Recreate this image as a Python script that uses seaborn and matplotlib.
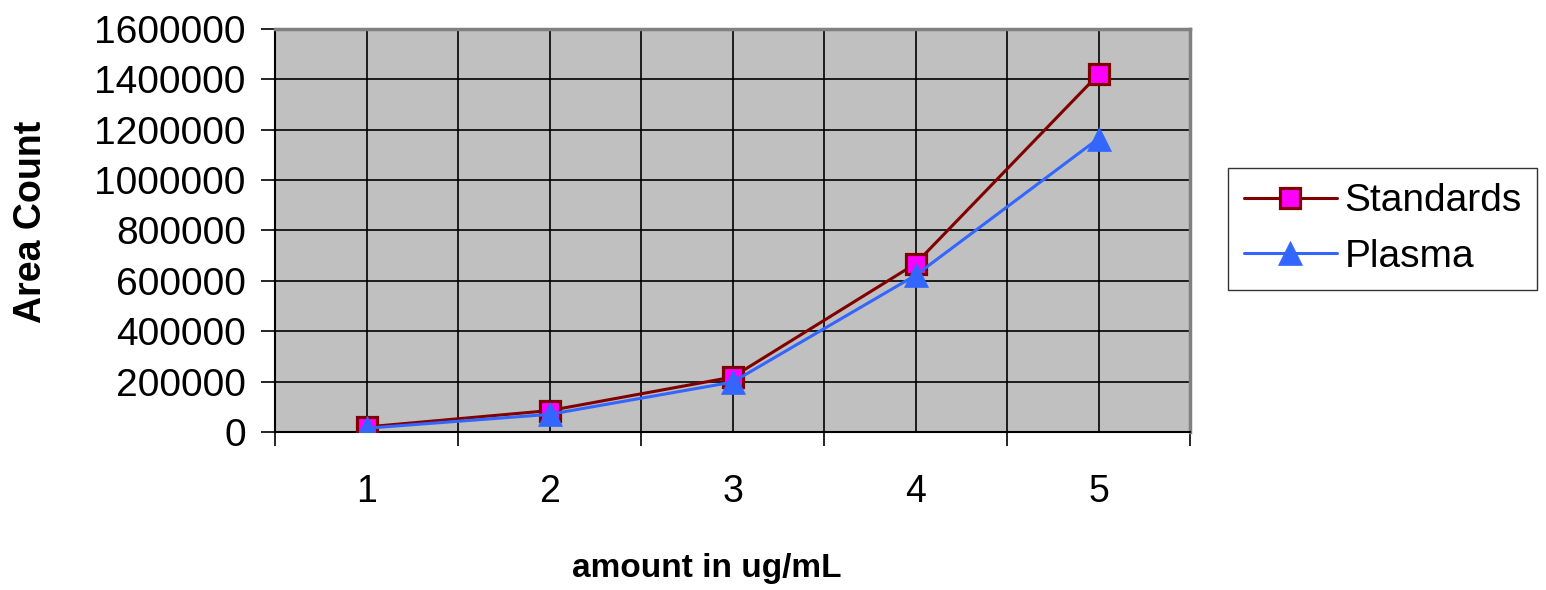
import matplotlib
matplotlib.use("Agg")
import matplotlib.pyplot as plt
import seaborn as sns
import pandas as pd
from matplotlib.ticker import FixedLocator

# Calibration data: concentration vs. detector area count
amounts = [1, 2, 3, 4, 5]
standards = [20000, 85000, 218000, 668000, 1420000]
plasma = [15000, 70000, 198000, 622000, 1165000]
y_ticks = [0, 200000, 400000, 600000, 800000, 1000000, 1200000, 1400000, 1600000]

df = pd.DataFrame({
    "amount": amounts * 2,
    "area": standards + plasma,
    "series": ["Standards"] * len(amounts) + ["Plasma"] * len(amounts),
})

sns.set_style("white")
plt.rcParams["font.family"] = ["Liberation Sans", "DejaVu Sans"]
plt.rcParams["text.color"] = "black"

fig = plt.figure(figsize=(15.46, 5.90), dpi=100)
ax = fig.add_axes([275 / 1546, 1 - 432 / 590, (1190 - 275) / 1546, (432 - 29) / 590])
ax.set_facecolor("#C0C0C0")

sns.lineplot(
    data=df[df.series == "Standards"], x="amount", y="area", ax=ax,
    color="#800000", linewidth=2.2, marker="s", markersize=14.5,
    markerfacecolor="#FF00FF", markeredgecolor="#800000", markeredgewidth=2.3,
    label="Standards", zorder=4,
)
sns.lineplot(
    data=df[df.series == "Plasma"], x="amount", y="area", ax=ax,
    color="#3366FF", linewidth=2.2, marker="^", markersize=17,
    markerfacecolor="#3366FF", markeredgecolor="#3366FF", markeredgewidth=0.5,
    label="Plasma", zorder=5,
)

ax.set_xlim(0.5, 5.5)
ax.set_ylim(0, 1600000)

# Category labels centred, tick marks between categories
ax.xaxis.set_major_locator(FixedLocator(amounts))
ax.xaxis.set_minor_locator(FixedLocator([a + 0.5 for a in [0] + amounts]))
ax.set_xticklabels([str(a) for a in amounts])
ax.set_yticks(y_ticks)
ax.set_yticklabels([str(v) for v in y_ticks])

ax.tick_params(axis="x", which="major", bottom=True, length=0, pad=30, labelsize=27,
               labelcolor="black")
ax.tick_params(axis="x", which="minor", bottom=True, length=10, width=1.2,
               color="black", direction="out")
ax.tick_params(axis="y", which="major", left=True, length=10, width=1.2, color="black",
               direction="out", pad=11, labelsize=28, labelcolor="black")

ax.grid(True, which="major", axis="both", color="black", linewidth=1.2)
ax.grid(True, which="minor", axis="x", color="black", linewidth=1.2)
ax.set_axisbelow(True)

for side in ["top", "right"]:
    ax.spines[side].set_color("#808080")
    ax.spines[side].set_linewidth(2.5)
for side in ["left", "bottom"]:
    ax.spines[side].set_color("black")
    ax.spines[side].set_linewidth(1.5)

ax.set_xlabel("")
ax.set_ylabel("")
fig.text(707 / 1546, 1 - 568 / 590, "amount in ug/mL", ha="center", va="center",
         fontsize=24, fontweight="bold", color="black")
fig.text(31 / 1546, 1 - 222 / 590, "Area Count", ha="center", va="center",
         rotation=90, fontsize=27, fontweight="bold", color="black")

leg = ax.legend(
    loc="center left", bbox_to_anchor=(1228 / 1546, 1 - 229 / 590),
    bbox_transform=fig.transFigure, fontsize=28, frameon=True, fancybox=False,
    edgecolor="black", handlelength=2.4, handletextpad=0.2, borderpad=0.4,
    labelspacing=0.5, borderaxespad=0,
)
leg.get_frame().set_linewidth(1.0)
for t in leg.get_texts():
    t.set_color("black")

fig.savefig("out.png", dpi=100, facecolor="white")
